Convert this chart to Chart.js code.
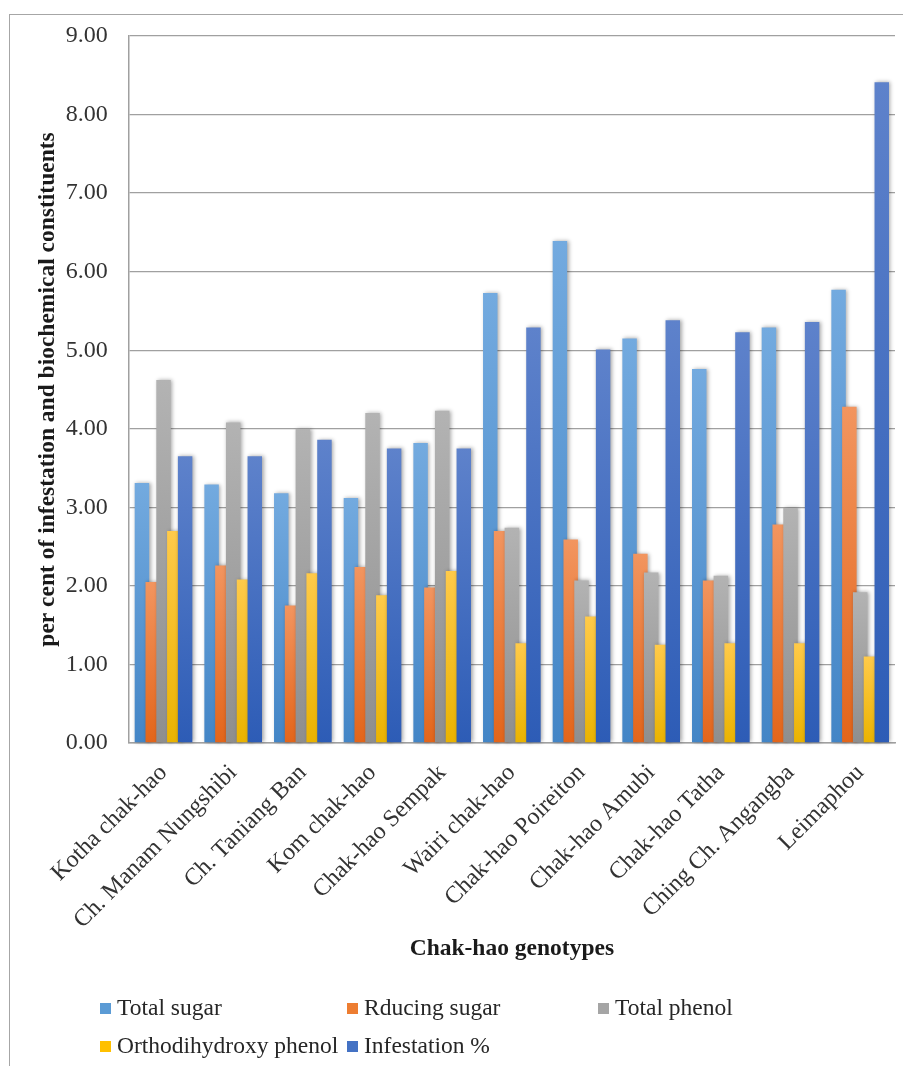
<!DOCTYPE html>
<html>
<head>
<meta charset="utf-8">
<script src="https://cdn.jsdelivr.net/npm/chart.js@4.4.1/dist/chart.umd.min.js"></script>
<style>
  html, body { margin: 0; padding: 0; background: #fff; width: 903px; height: 1066px; overflow: hidden; }
  #frame { position: absolute; left: 9px; top: 14px; width: 1000px; height: 1200px; border: 1.5px solid #a6a6a6; box-sizing: border-box; }
  #chart { position: absolute; left: 0; top: 0; }
  #legend { position: absolute; left: 0; top: 0; width: 903px; height: 1066px; pointer-events: none;
            font-family: "Liberation Serif", "Times New Roman", serif; font-size: 23.5px; color: #262626; }
  .item { position: absolute; white-space: nowrap; line-height: 24px; height: 24px; }
  .item span.box { display: inline-block; width: 11px; height: 11px; margin-right: 6px; vertical-align: 1px; }
</style>
</head>
<body>
<div id="frame"></div>
<canvas id="chart" width="903" height="1066"></canvas>
<div id="legend"></div>
<script>
// Chak-hao genotypes on the x axis
const genotypes = [
  "Kotha chak-hao", "Ch. Manam Nungshibi", "Ch. Taniang Ban", "Kom chak-hao",
  "Chak-hao Sempak", "Wairi chak-hao", "Chak-hao Poireiton", "Chak-hao Amubi",
  "Chak-hao Tatha", "Ching Ch. Angangba", "Leimaphou"
];

// Series values (per cent)
const totalSugar      = [3.31, 3.29, 3.18, 3.12, 3.82, 5.73, 6.39, 5.15, 4.76, 5.29, 5.77];
const reducingSugar   = [2.05, 2.26, 1.75, 2.24, 1.98, 2.70, 2.59, 2.41, 2.07, 2.78, 4.28];
const totalPhenol     = [4.62, 4.08, 4.00, 4.20, 4.23, 2.74, 2.07, 2.17, 2.13, 2.99, 1.92];
const orthoPhenol     = [2.70, 2.08, 2.16, 1.88, 2.19, 1.27, 1.61, 1.25, 1.27, 1.27, 1.10];
const infestation     = [3.65, 3.65, 3.86, 3.75, 3.75, 5.29, 5.01, 5.38, 5.23, 5.36, 8.41];

const seriesNames = ["Total sugar", "Rducing sugar", "Total phenol", "Orthodihydroxy phenol", "Infestation %"];
const seriesValues = [totalSugar, reducingSugar, totalPhenol, orthoPhenol, infestation];

// y axis ticks
const yMin = 0, yMax = 9, yStep = 1;

// solid swatch colour plus a light-top / dark-bottom gradient for each series
const swatch = ["#5b9bd5", "#ed7d31", "#a5a5a5", "#ffc000", "#4472c4"];
const gradTop = ["#73aadf", "#f2955f", "#b3b3b3", "#ffca4a", "#5e82cb"];
const gradBot = ["#4385c6", "#e3651a", "#8e8e8e", "#eab300", "#2d5cb6"];

function barFill(i) {
  return (ctx) => {
    const chart = ctx.chart;
    const y = chart.scales && chart.scales.y;
    if (!chart.chartArea || !y || !ctx.parsed) return swatch[i];
    const top = y.getPixelForValue(ctx.parsed.y);
    const bottom = y.getPixelForValue(0);
    if (!isFinite(top) || !isFinite(bottom) || top === bottom) return swatch[i];
    const g = chart.ctx.createLinearGradient(0, top, 0, bottom);
    g.addColorStop(0, gradTop[i]);
    g.addColorStop(1, gradBot[i]);
    return g;
  };
}

// draw series left-to-right so each bar sits over its left neighbour, with a soft shadow
const layeredBars = {
  id: "layeredBars",
  beforeDatasetsDraw(chart) {
    const ctx = chart.ctx;
    const metas = chart.getSortedVisibleDatasetMetas();
    for (const meta of metas) {
      ctx.save();
      ctx.shadowColor = "rgba(0,0,0,0.35)";
      ctx.shadowBlur = 4;
      ctx.shadowOffsetX = 1.5;
      ctx.shadowOffsetY = 0;
      meta.controller.draw();
      ctx.restore();
    }
    return false;
  }
};

const serif = "'Liberation Serif', 'Times New Roman', serif";

new Chart(document.getElementById("chart"), {
  type: "bar",
  data: {
    labels: genotypes,
    datasets: seriesNames.map((name, i) => ({
      label: name,
      data: seriesValues[i],
      backgroundColor: barFill(i),
      borderWidth: 0,
      categoryPercentage: 0.775,
      barPercentage: 1.34
    }))
  },
  options: {
    responsive: false,
    animation: false,
    layout: { padding: { left: 34, right: 8, top: 36, bottom: 103 } },
    plugins: {
      legend: { display: false },
      tooltip: { enabled: false }
    },
    scales: {
      x: {
        grid: { display: false, drawTicks: false },
        border: { display: true, color: "#a0a0a0", width: 1.5 },
        ticks: {
          color: "#333",
          font: { family: serif, size: 24 },
          minRotation: 45,
          maxRotation: 45,
          autoSkip: false,
          padding: 16
        },
        title: {
          display: true,
          text: "Chak-hao genotypes",
          color: "#1a1a1a",
          font: { family: serif, size: 23.5, weight: "bold" },
          padding: 0
        },
        afterFit(scale) { scale.height = 220; }
      },
      y: {
        min: yMin,
        max: yMax,
        grid: { color: "#a0a0a0", lineWidth: 1.3, drawTicks: false },
        border: { display: true, color: "#a0a0a0", width: 1.5 },
        ticks: {
          stepSize: yStep,
          color: "#333",
          font: { family: serif, size: 24 },
          padding: 21,
          callback: (v) => Number(v).toFixed(2)
        },
        title: {
          display: true,
          text: "per cent of infestation and biochemical constituents",
          color: "#1a1a1a",
          font: { family: serif, size: 23.5, weight: "bold" },
          padding: 0
        },
        afterFit(scale) { scale.width = 94.7; }
      }
    }
  },
  plugins: [layeredBars]
});

// legend: three fixed-width columns under the chart
const legend = document.getElementById("legend");
const colX = [100, 347, 598];
const rowY = [995, 1033];
seriesNames.forEach((name, i) => {
  const el = document.createElement("div");
  el.className = "item";
  el.style.left = colX[i % 3] + "px";
  el.style.top = rowY[Math.floor(i / 3)] + "px";
  const box = document.createElement("span");
  box.className = "box";
  box.style.background = swatch[i];
  el.appendChild(box);
  el.appendChild(document.createTextNode(name));
  legend.appendChild(el);
});
</script>
</body>
</html>
